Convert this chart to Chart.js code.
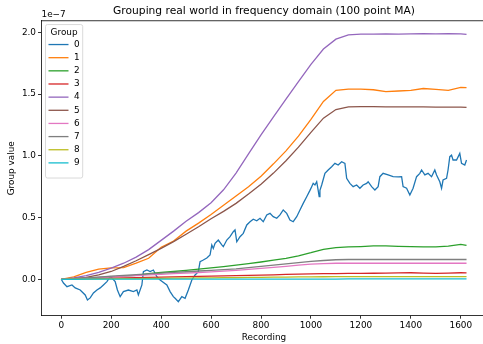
<!DOCTYPE html>
<html>
<head>
<meta charset="utf-8">
<script src="https://cdn.jsdelivr.net/npm/chart.js@4.4.0/dist/chart.umd.min.js"></script>
<style>
  html, body { margin: 0; padding: 0; overflow: hidden; background: #fff; }
  canvas { display: block; }
</style>
</head>
<body>
<canvas id="groupChart" width="490" height="344"></canvas>
<script>
// values are in units of 1e-7
const groupNames = ["0", "1", "2", "3", "4", "5", "6", "7", "8", "9"];
const groupColors = ["#1f77b4", "#ff7f0e", "#2ca02c", "#d62728", "#9467bd",
                     "#8c564b", "#e377c2", "#7f7f7f", "#bcbd22", "#17becf"];

const xTicks = [0, 200, 400, 600, 800, 1000, 1200, 1400, 1600];
const yTicks = [0, 0.5, 1.0, 1.5, 2.0];

// group 0 is noisy, so it gets its own recording positions
const recording0 = [0, 9, 23, 43, 56, 76, 96, 105, 116, 129, 143, 156, 169, 183, 196, 203, 216, 225, 236, 249,
  269, 289, 303, 309, 323, 329, 343, 356, 369, 383, 396, 423, 436, 449, 456, 469, 483, 496, 509, 523,
  536, 549, 556, 569, 583, 596, 603, 609, 616, 629, 643, 649, 663, 676, 689, 696, 703, 716, 729, 743,
  756, 769, 783, 796, 809, 823, 836, 849, 863, 876, 889, 903, 916, 929, 943, 956, 969, 983, 996, 1003,
  1009, 1016, 1023, 1029, 1033, 1036, 1043, 1056, 1069, 1083, 1096, 1109, 1123, 1136, 1143, 1156, 1169, 1183, 1196, 1209,
  1223, 1229, 1243, 1256, 1269, 1276, 1289, 1309, 1329, 1349, 1363, 1369, 1383, 1396, 1409, 1423, 1436, 1443, 1456, 1469,
  1483, 1496, 1503, 1516, 1523, 1529, 1543, 1549, 1556, 1563, 1569, 1583, 1596, 1603, 1616, 1623];
const group0 = [0, -0.03, -0.06, -0.046, -0.07, -0.087, -0.127, -0.168, -0.151, -0.111, -0.087, -0.07, -0.046, -0.019, 0.021, 0.01, -0.019, -0.087, -0.141, -0.1,
  -0.087, -0.1, -0.087, -0.127, -0.046, 0.062, 0.075, 0.062, 0.075, 0.021, -0.006, -0.046, -0.1, -0.141, -0.154, -0.181, -0.141, -0.154, -0.087, -0.006,
  0.035, 0.062, 0.143, 0.156, 0.172, 0.197, 0.278, 0.25, 0.291, 0.318, 0.278, 0.264, 0.318, 0.345, 0.385, 0.4, 0.304, 0.345, 0.372, 0.44,
  0.466, 0.486, 0.474, 0.494, 0.466, 0.521, 0.534, 0.507, 0.494, 0.521, 0.561, 0.534, 0.48, 0.466, 0.507, 0.561, 0.615, 0.669, 0.72, 0.75,
  0.777, 0.764, 0.79, 0.72, 0.669, 0.72, 0.764, 0.858, 0.885, 0.912, 0.939, 0.925, 0.952, 0.939, 0.818, 0.777, 0.75, 0.764, 0.737, 0.764,
  0.777, 0.79, 0.75, 0.723, 0.75, 0.831, 0.858, 0.845, 0.831, 0.83, 0.831, 0.75, 0.737, 0.683, 0.737, 0.831, 0.858, 0.885, 0.845, 0.858,
  0.831, 0.885, 0.845, 0.79, 0.737, 0.804, 0.818, 0.885, 0.993, 1.006, 0.966, 0.966, 1.02, 0.939, 0.925, 0.966];

// the smoother groups share one set of recording positions
const recording = [0, 50, 100, 150, 200, 250, 300, 350, 400, 450, 500, 550, 600, 650, 700, 750, 800,
  850, 900, 950, 1000, 1050, 1100, 1150, 1200, 1250, 1300, 1350, 1400, 1450, 1500, 1550, 1600, 1623];
const group1 = [0, 0.02, 0.055, 0.083, 0.093, 0.095, 0.13, 0.17, 0.26, 0.31, 0.39, 0.455, 0.525, 0.6, 0.675, 0.75, 0.835,
  0.935, 1.04, 1.16, 1.295, 1.44, 1.53, 1.54, 1.54, 1.535, 1.52, 1.525, 1.53, 1.545, 1.538, 1.53, 1.555, 1.553];
const group2 = [0, 0.005, 0.01, 0.015, 0.02, 0.025, 0.032, 0.045, 0.055, 0.063, 0.072, 0.082, 0.093, 0.103, 0.115, 0.127, 0.14,
  0.155, 0.17, 0.19, 0.215, 0.243, 0.256, 0.262, 0.265, 0.27, 0.27, 0.266, 0.264, 0.263, 0.263, 0.268, 0.282, 0.275];
const group3 = [0, 0.003, 0.005, 0.008, 0.01, 0.012, 0.014, 0.016, 0.018, 0.02, 0.022, 0.024, 0.025, 0.027, 0.029, 0.031, 0.033,
  0.036, 0.039, 0.041, 0.043, 0.045, 0.046, 0.047, 0.048, 0.049, 0.05, 0.052, 0.053, 0.05, 0.048, 0.05, 0.053, 0.052];
const group4 = [0, 0.012, 0.03, 0.055, 0.09, 0.13, 0.18, 0.24, 0.315, 0.39, 0.47, 0.54, 0.62, 0.725, 0.86, 1.015, 1.17,
  1.315, 1.46, 1.6, 1.74, 1.865, 1.945, 1.98, 1.985, 1.985, 1.988, 1.985, 1.988, 1.99, 1.988, 1.99, 1.988, 1.984];
const group5 = [0, 0.005, 0.015, 0.035, 0.063, 0.105, 0.15, 0.2, 0.25, 0.305, 0.365, 0.425, 0.49, 0.55, 0.615, 0.69, 0.77,
  0.86, 0.96, 1.07, 1.19, 1.305, 1.375, 1.397, 1.398, 1.398, 1.397, 1.397, 1.396, 1.396, 1.395, 1.395, 1.394, 1.393];
const group6 = [0, 0.005, 0.01, 0.015, 0.02, 0.025, 0.03, 0.035, 0.04, 0.045, 0.05, 0.055, 0.06, 0.066, 0.072, 0.08, 0.088,
  0.096, 0.105, 0.114, 0.122, 0.127, 0.13, 0.13, 0.13, 0.13, 0.13, 0.13, 0.13, 0.13, 0.13, 0.13, 0.13, 0.13];
const group7 = [0, 0.006, 0.012, 0.018, 0.025, 0.031, 0.037, 0.044, 0.05, 0.056, 0.061, 0.067, 0.072, 0.078, 0.085, 0.095, 0.105,
  0.115, 0.125, 0.135, 0.145, 0.152, 0.158, 0.16, 0.16, 0.16, 0.16, 0.16, 0.16, 0.16, 0.16, 0.16, 0.16, 0.16];
const group8 = [0, 0.001, 0.002, 0.003, 0.004, 0.005, 0.006, 0.007, 0.008, 0.009, 0.01, 0.011, 0.012, 0.013, 0.014, 0.015, 0.016,
  0.017, 0.018, 0.019, 0.02, 0.0205, 0.021, 0.021, 0.021, 0.021, 0.021, 0.021, 0.021, 0.021, 0.021, 0.021, 0.021, 0.021];
const group9 = [0, 0, 0.001, 0.001, 0.001, 0.001, 0.001, 0.001, 0.001, 0.001, 0.001, 0.001, 0.001, 0.002, 0.002, 0.002, 0.002,
  0.002, 0.002, 0.002, 0.002, 0.002, 0.002, 0.003, 0.003, 0.003, 0.003, 0.003, 0.003, 0.003, 0.003, 0.003, 0.003, 0.003];

const FONT = "'DejaVu Sans', sans-serif";
const FONT_SIZE = 8.9;
Chart.defaults.font.family = FONT;
Chart.defaults.font.size = FONT_SIZE;
Chart.defaults.color = "#000";

function toPoints(xs, ys) {
  return xs.map((x, i) => ({ x: x, y: ys[i] }));
}

const seriesValues = [group0, group1, group2, group3, group4, group5, group6, group7, group8, group9];
const datasets = seriesValues.map((vals, i) => ({
  label: groupNames[i],
  data: toPoints(i === 0 ? recording0 : recording, vals),
  borderColor: groupColors[i],
  borderWidth: 1.3,
  pointRadius: 0,
  tension: 0,
  fill: false,
  order: 9 - i
}));

// top spine, the 1e-7 offset text and the boxed legend
const frameAndLegend = {
  id: "frameAndLegend",
  afterDraw(chart) {
    const ctx = chart.ctx;
    const area = chart.chartArea;
    ctx.save();
    ctx.strokeStyle = "#000";
    ctx.lineWidth = 0.8;
    ctx.beginPath();
    ctx.moveTo(area.left, area.top);
    ctx.lineTo(area.right, area.top);
    ctx.lineTo(area.right, area.bottom);
    ctx.stroke();

    ctx.font = FONT_SIZE + "px " + FONT;
    ctx.fillStyle = "#000";
    ctx.textAlign = "left";
    ctx.textBaseline = "middle";
    ctx.fillText("1e\u22127", area.left + 0.5, 15);

    const bx = area.left + 4.5, by = area.top + 3.8, bw = 37.2, bh = 153.5;
    ctx.beginPath();
    ctx.roundRect(bx, by, bw, bh, 2);
    ctx.fillStyle = "rgba(255,255,255,0.8)";
    ctx.fill();
    ctx.strokeStyle = "#d0d0d0";
    ctx.stroke();

    ctx.fillStyle = "#000";
    ctx.textAlign = "center";
    ctx.fillText("Group", bx + bw / 2, by + 8);
    ctx.textAlign = "left";
    groupNames.forEach((name, i) => {
      const y = by + 20 + i * 13.15;
      ctx.strokeStyle = groupColors[i];
      ctx.lineWidth = 1.3;
      ctx.beginPath();
      ctx.moveTo(bx + 3, y);
      ctx.lineTo(bx + 23, y);
      ctx.stroke();
      ctx.fillText(name, bx + 28.5, y);
    });
    ctx.restore();
  }
};

const ctx = document.getElementById("groupChart").getContext("2d");
new Chart(ctx, {
  type: "line",
  data: { datasets },
  options: {
    responsive: false,
    animation: false,
    layout: { padding: { left: 0, right: 3, top: 0, bottom: 0 } },
    plugins: {
      legend: { display: false },
      tooltip: { enabled: false },
      title: {
        display: true,
        text: "Grouping real world in frequency domain (100 point MA)",
        fullSize: false,
        font: { size: 10.7, weight: "normal" },
        color: "#000",
        padding: { top: 5.3, bottom: 2.6 }
      }
    },
    scales: {
      x: {
        type: "linear",
        min: -81,
        max: 1705,
        afterBuildTicks: (scale) => { scale.ticks = xTicks.map(v => ({ value: v })); },
        afterFit: (scale) => { scale.height = 28.3; },
        ticks: { padding: 1.7, callback: (v) => String(v) },
        grid: { drawOnChartArea: false, drawTicks: true, tickLength: 3, color: "#000", lineWidth: 0.8 },
        border: { color: "#000", width: 0.8 },
        title: { display: true, text: "Recording", padding: { top: 0, bottom: 1 } }
      },
      y: {
        min: -0.295,
        max: 2.094,
        afterBuildTicks: (scale) => { scale.ticks = yTicks.map(v => ({ value: v })); },
        afterFit: (scale) => { scale.width = 41; },
        ticks: { padding: 2, callback: (v) => v.toFixed(1) },
        grid: { drawOnChartArea: false, drawTicks: true, tickLength: 3, color: "#000", lineWidth: 0.8 },
        border: { color: "#000", width: 0.8 },
        title: { display: true, text: "Group value", padding: { top: 6.7, bottom: 0 } }
      }
    }
  },
  plugins: [frameAndLegend]
});
</script>
</body>
</html>
